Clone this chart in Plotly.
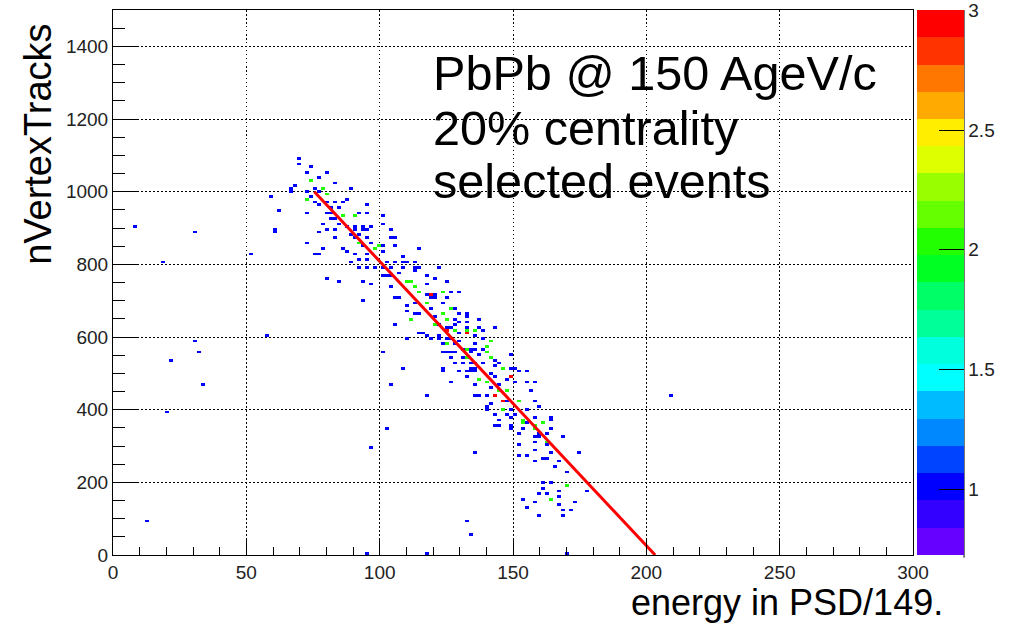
import numpy as np
import plotly.graph_objects as go

# ---------------- data ----------------
# occupied histogram cells: energy in PSD/149 (x), nVertexTracks (y), entries
x_vals = [
    69.3, 69.3, 73.9, 72.6, 79.8, 74.3, 76.8, 83.0, 68.0, 67.0, 66.4, 75.5, 78.9, 77.0, 88.9, 80.1, 58.9, 73.2, 74.5, 73.0,
    75.1, 80.1, 83.0, 88.3, 86.4, 77.6, 81.4, 84.8, 94.5, 62.0, 79.5, 72.6, 82.0, 86.0, 90.5, 92.0, 94.5, 81.4, 83.9, 78.9,
    85.1, 87.0, 90.7, 93.3, 96.0, 100.8, 103.9, 60.1, 79.5, 82.6, 90.7, 93.3, 95.8, 77.0, 89.5, 92.0, 82.6, 90.7, 95.8, 104.5,
    72.6, 92.0, 93.9, 96.4, 99.5, 98.2, 101.4, 105.5, 114.5, 78.9, 86.4, 76.4, 88.3, 90.7, 94.5, 100.8, 88.9, 92.0, 95.0, 92.0,
    94.5, 98.2, 101.0, 104.5, 108.2, 109.4, 113.1, 114.4,
    78.3, 77.0, 80.1, 84.5, 93.9, 93.2, 96.4, 101.4, 122.0, 108.2, 100.7, 103.9, 105.1,
    102.6, 106.4, 109.5, 112.6, 112.6, 102.0, 104.5, 107.6, 117.0, 120.1, 110.1, 112.0, 124.5, 117.6, 113.2, 104.5, 115.1, 118.9,
    117.0, 120.7, 123.2, 126.4, 129.5, 105.1, 107.6, 118.9, 121.4, 124.5, 117.4, 112.6, 123.2, 109.5, 119.5, 126.4, 128.9, 110.1,
    113.2, 115.1, 123.2, 129.5, 132.0, 120.1, 128.2, 132.6, 137.0, 111.4, 125.1, 129.5, 132.6, 105.1, 120.7, 121.9, 124.5, 126.4,
    132.0, 133.3, 143.2, 125.7, 128.2, 132.6, 135.1, 138.3, 115.1, 132.0, 130.1, 118.9, 122.6, 124.5, 127.0, 130.1, 136.4, 141.4,
    110.1, 123.2, 125.7, 128.9, 135.1, 140.1, 132.0, 130.7, 135.1, 140.1, 123.2, 125.7, 128.9, 133.9, 137.6, 148.9, 127.0, 130.7,
    132.6, 141.4, 143.9, 128.9, 130.7, 135.1, 138.3, 143.9, 133.9, 136.4, 145.7, 148.9, 151.4, 108.2, 123.2, 130.1, 133.9, 136.4,
    141.4,
    127.6, 135.1, 137.6, 116.4, 118.3, 121.9, 138.9, 125.1, 140.1, 124.5, 127.0, 133.9, 138.3, 140.1, 133.2, 141.4, 148.9, 128.2,
    130.7, 134.1, 145.1, 123.2, 130.1, 132.0, 135.7, 145.7, 152.0, 155.1, 133.2, 143.9, 148.9, 147.0, 137.2, 140.1, 145.1, 126.4,
    151.4, 155.1, 158.9, 135.7, 141.4, 145.1, 147.6, 156.4, 158.2, 137.2, 140.7, 143.9, 117.0, 145.7, 148.2, 152.0, 141.4, 139.5,
    145.7, 149.5, 155.1, 148.2, 150.8, 153.9, 157.5, 160.7, 164.0, 145.1, 144.5, 149.5, 158.2, 152.6, 157.5, 160.1, 163.2, 168.2,
    162.6,
    142.0, 139.5, 157.6, 159.5, 148.9, 146.4, 154.5, 142.9, 148.9, 163.9, 153.2, 155.1, 160.7, 144.1, 149.5, 153.2, 157.6, 163.9,
    159.5, 157.6, 168.2, 158.2, 162.6, 152.0, 135.4, 152.0, 155.1, 163.9, 174.5, 157.6, 160.7, 162.6, 157.6, 167.0, 165.1, 170.1,
    161.4, 163.9, 170.1, 167.0, 160.7, 162.6, 159.5, 163.9, 167.0, 153.2, 157.6, 172.6, 167.0, 155.1, 168.9, 171.4, 159.5, 168.2,
    177.6,
    103.9, 117.4, 126.4, 102.3, 96.4, 135.4, 132.4, 133.9, 94.5, 117.4, 169.5, 136.4, 140.1, 143.9, 152.0, 152.0, 108.2, 100.7,
    208.9,
    7.9, 30.5, 18.5, 51.6, 58.9, 62.0, 60.1, 67.0, 30.5, 32.0, 21.4, 33.3, 19.8, 57.4, 12.4,
]
y_vals = [
    1093, 1077, 1069, 1053, 1053, 1033, 1035, 1026, 1017, 1008, 1001, 1012, 1010, 998, 1010, 995, 987, 1001, 987, 978,
    974, 971, 971, 980, 969, 960, 958, 958, 964, 951, 943, 943, 941, 936, 936, 943, 943, 928, 928, 912,
    909, 903, 903, 903, 903, 909, 897, 893, 894, 894, 894, 894, 894, 885, 882, 879, 875, 872, 872, 875,
    859, 859, 854, 859, 851, 845, 850, 854, 845, 845, 843, 827, 839, 831, 831, 836, 808, 817, 817, 793,
    793, 793, 793, 793, 808, 793, 808, 790,
    846, 827, 762, 753, 753, 703, 749, 767, 794, 822, 937, 896, 875,
    808, 808, 808, 794, 785, 771, 771, 776, 771, 762, 753, 753, 753, 744, 738, 735, 723, 719,
    719, 719, 726, 726, 726, 710, 710, 707, 707, 707, 693, 693, 693, 684, 682, 675, 680, 671,
    666, 666, 666, 661, 661, 657, 652, 657, 652, 650, 648, 643, 643, 637, 634, 634, 629, 629,
    629, 629, 625, 620, 618, 618, 620, 618, 611, 611, 611, 597, 597, 597, 597, 592, 600, 592,
    597, 583, 583, 579, 579, 574, 569, 569, 565, 560, 557, 557, 557, 555, 551, 551, 547, 543,
    543, 542, 537, 532, 532, 528, 528, 524, 517, 517, 510, 515, 510, 517, 510, 504, 504, 504,
    502,
    634, 620, 625, 611, 602, 602, 597, 583, 576, 557, 557, 567, 567, 557, 544, 542, 551, 530,
    530, 528, 530, 508, 505, 505, 512, 510, 508, 508, 493, 493, 491, 482, 484, 478, 468, 475,
    475, 473, 478, 465, 462, 455, 450, 450, 427, 441, 441, 441, 441, 427, 427, 427, 413, 401,
    401, 401, 400, 383, 383, 372, 377, 365, 372, 372, 355, 354, 354, 337, 326, 326, 331, 326,
    307,
    416, 409, 422, 409, 400, 400, 400, 383, 377, 381, 365, 365, 365, 358, 347, 347, 349, 349,
    335, 324, 326, 312, 309, 306, 282, 276, 276, 282, 282, 289, 265, 265, 257, 257, 243, 227,
    199, 199, 190, 177, 181, 171, 172, 155, 163, 155, 147, 147, 138, 131, 124, 124, 107, 107,
    177,
    468, 441, 475, 349, 297, 282, 94, 56, 4, 4, 4, 441, 441, 358, 306, 276, 514, 560,
    441,
    903, 891, 808, 827, 986, 951, 891, 1010, 591, 559, 537, 468, 393, 604, 96,
]
counts = [
    1, 1, 1, 1, 1, 2, 1, 1, 1, 1, 1, 1, 2, 1, 1, 2, 1, 1, 1, 2,
    1, 1, 1, 1, 1, 1, 1, 1, 1, 1, 1, 1, 1, 2, 2, 1, 1, 1, 1, 1,
    1, 1, 1, 1, 1, 1, 1, 1, 1, 1, 1, 1, 1, 1, 1, 1, 1, 1, 1, 1,
    1, 2, 1, 1, 2, 2, 1, 1, 1, 1, 1, 1, 1, 1, 1, 1, 1, 1, 1, 1,
    1, 1, 1, 1, 1, 1, 1, 1,
    1, 1, 1, 1, 1, 1, 1, 1, 1, 1, 1, 1, 1,
    1, 1, 1, 1, 1, 1, 1, 1, 1, 1, 2, 2, 1, 1, 2, 1, 2, 3,
    1, 1, 2, 1, 1, 1, 1, 1, 1, 1, 2, 1, 1, 1, 1, 2, 1, 1,
    1, 1, 2, 1, 1, 1, 1, 1, 1, 2, 2, 1, 1, 1, 2, 1, 1, 1,
    1, 1, 1, 3, 2, 2, 1, 1, 1, 3, 1, 1, 1, 1, 1, 1, 1, 2,
    1, 1, 1, 1, 1, 2, 2, 1, 1, 2, 1, 1, 1, 1, 1, 1, 1, 1,
    2, 2, 1, 1, 1, 1, 1, 1, 1, 1, 2, 1, 1, 1, 1, 1, 1, 1,
    1,
    1, 2, 1, 1, 1, 1, 1, 2, 2, 1, 1, 1, 1, 2, 1, 2, 1, 1,
    1, 1, 1, 1, 1, 1, 1, 2, 1, 1, 1, 1, 3, 1, 2, 2, 1, 1,
    1, 1, 1, 1, 1, 2, 2, 1, 1, 1, 1, 3, 1, 3, 1, 2, 1, 1,
    2, 1, 1, 1, 1, 2, 1, 2, 1, 1, 1, 1, 2, 1, 1, 1, 1, 1,
    1,
    1, 1, 1, 1, 1, 2, 1, 1, 1, 1, 2, 1, 2, 1, 1, 1, 2, 1,
    1, 1, 1, 1, 2, 1, 1, 1, 1, 1, 1, 1, 1, 1, 1, 1, 1, 1,
    1, 1, 2, 1, 1, 1, 1, 2, 1, 1, 1, 1, 1, 1, 1, 1, 1, 1,
    1,
    1, 1, 1, 1, 1, 1, 1, 1, 1, 1, 1, 1, 1, 1, 1, 1, 1, 1,
    1,
    1, 1, 1, 1, 1, 1, 1, 1, 1, 1, 1, 1, 1, 1, 1,
]

# fitted correlation line
line_x = [75.5, 203.3]
line_y = [1000, 0]

# histogram binning and colour range
n_xbins, x_lo, x_hi = 200, 0.0, 300.0
n_ybins, y_lo, y_hi = 200, 0.0, 1500.0
z_min, z_max = 0.725, 3.002

x_ticks = [0, 50, 100, 150, 200, 250, 300]
y_ticks = [0, 200, 400, 600, 800, 1000, 1200, 1400]
z_ticks = [1, 1.5, 2, 2.5, 3]
z_ticktext = ["1", "1.5", "2", "2.5", "3"]

label_lines = ["PbPb @ 150 AgeV/c", "20% centrality", "selected events"]

# ROOT-like 20-level rainbow palette (bottom -> top)
palette = [
    "#6600ff", "#3300ff", "#0000ff", "#0044ff", "#0088ff", "#00bbff", "#00ffff",
    "#00ffdd", "#00ff99", "#00ff66", "#00ff22", "#22ff00", "#66ff00", "#99ff00",
    "#ddff00", "#ffee00", "#ffaa00", "#ff7700", "#ff3300", "#ff0000",
]

# ---------------- build histogram table ----------------
dx = (x_hi - x_lo) / n_xbins
dy = (y_hi - y_lo) / n_ybins
z = np.full((n_ybins, n_xbins), np.nan)
for xv, yv, c in zip(x_vals, y_vals, counts):
    ix = int((xv - x_lo) // dx)
    iy = int((yv - y_lo) // dy)
    if 0 <= ix < n_xbins and 0 <= iy < n_ybins:
        cur = z[iy, ix]
        z[iy, ix] = c if np.isnan(cur) else max(cur, c)
z_list = [[None if np.isnan(v) else float(v) for v in row] for row in z]

n = len(palette)
colorscale = []
for i, col in enumerate(palette):
    colorscale.append([i / n, col])
    colorscale.append([(i + 1) / n, col])

FONT = "Liberation Sans, Arial, Helvetica, sans-serif"

fig = go.Figure()
fig.add_trace(go.Heatmap(
    z=z_list, x0=x_lo + dx / 2, dx=dx, y0=y_lo + dy / 2, dy=dy,
    zmin=z_min, zmax=z_max, colorscale=colorscale, zsmooth=False,
    hoverongaps=False,
    colorbar=dict(
        x=1.005, xanchor="left", xpad=0, y=0.5, yanchor="middle", ypad=0,
        len=1, lenmode="fraction", thickness=47, outlinewidth=0,
        tickvals=z_ticks, ticktext=z_ticktext, ticks="inside", ticklen=25,
        tickcolor="black", tickwidth=1,
        tickfont=dict(family=FONT, size=19, color="#222"),
    ),
))
fig.add_trace(go.Scatter(
    x=line_x, y=line_y, mode="lines", line=dict(color="#ff0000", width=3),
    showlegend=False, hoverinfo="skip",
))

axis_common = dict(
    showline=True, linecolor="black", linewidth=1, mirror=True,
    showgrid=True, gridcolor="black", griddash="1.5px,2.5px", gridwidth=1,
    zeroline=False, ticks="inside", tickcolor="black", tickwidth=1,
    tickfont=dict(family=FONT, size=19, color="#222"),
)
fig.update_xaxes(range=[x_lo, x_hi], tickvals=x_ticks, ticklen=16,
                 minor=dict(dtick=10, tick0=0, ticks="inside", ticklen=8, tickcolor="black", showgrid=False),
                 **axis_common)
fig.update_yaxes(range=[y_lo, y_hi], tickvals=y_ticks, ticklen=24,
                 minor=dict(dtick=50, tick0=0, ticks="inside", ticklen=12, tickcolor="black", showgrid=False),
                 **axis_common)

annotations = [
    dict(text="nVertexTracks", textangle=-90, xref="paper", yref="paper",
         x=-0.094, y=0.754, xanchor="center", yanchor="middle", showarrow=False,
         font=dict(family=FONT, size=38, color="black")),
    dict(text="energy in PSD/149.", xref="paper", yref="paper",
         x=1.04, y=-0.088, xanchor="right", yanchor="middle", showarrow=False,
         font=dict(family=FONT, size=36, color="black")),
]
for txt, yp in zip(label_lines, [0.8845, 0.7836, 0.6864]):
    annotations.append(dict(text=txt, xref="paper", yref="paper", x=0.3975, y=yp,
                            xanchor="left", yanchor="middle", showarrow=False,
                            font=dict(family=FONT, size=48.6, color="black")))

fig.update_layout(
    width=1012, height=628,
    margin=dict(l=113, r=99, t=10, b=73, autoexpand=False),
    paper_bgcolor="white", plot_bgcolor="white",
    showlegend=False, annotations=annotations,
    shapes=[dict(type="line", xref="paper", yref="paper", x0=1.0638, x1=1.0638,
                 y0=-0.005, y1=1, line=dict(color="black", width=1))],
)

fig.write_html("out.html")
